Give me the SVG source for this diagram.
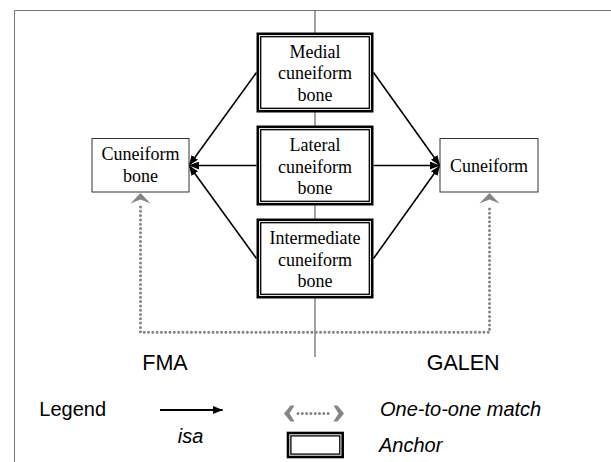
<svg xmlns="http://www.w3.org/2000/svg" width="611" height="462" viewBox="0 0 611 462">
<style>
.serif{font-family:"Liberation Serif","Times New Roman",serif;font-size:18px;fill:#000;text-anchor:middle}
.sans{font-family:"Liberation Sans",Arial,sans-serif;fill:#000}
.it{font-style:italic;font-size:20px}
.outer{fill:#fff;stroke:#000;stroke-width:2.6}
.inner{fill:none;stroke:#000;stroke-width:1.3}
.plain{fill:#fff;stroke:#333;stroke-width:1}
.isa{stroke:#000;stroke-width:1.6;fill:none}
.match{stroke:#858585;stroke-width:3;stroke-linecap:round;stroke-dasharray:0 4.3;fill:none}
.mhead{fill:#858585}
</style>
<defs>
<marker id="ah" viewBox="0 0 10 8" refX="10" refY="4" markerWidth="10" markerHeight="8" markerUnits="userSpaceOnUse" orient="auto">
<path d="M0,0 L10,4 L0,8 Z" fill="#000"/>
</marker>
</defs>
<rect width="611" height="462" fill="#fff"/>
<g id="frame">
<path d="M14.5,462 V10.5 H611" fill="none" stroke="#777" stroke-width="1"/>
<line x1="315" y1="10.5" x2="315" y2="357" stroke="#444" stroke-width="1"/>
</g>
<g id="connectors">
<line class="isa" x1="256.5" y1="72.5" x2="189" y2="165.5" marker-end="url(#ah)"/>
<line class="isa" x1="256.5" y1="165.5" x2="189" y2="165.5" marker-end="url(#ah)"/>
<line class="isa" x1="256.5" y1="258.5" x2="189" y2="165.5" marker-end="url(#ah)"/>
<line class="isa" x1="373.5" y1="72.5" x2="440" y2="165.5" marker-end="url(#ah)"/>
<line class="isa" x1="373.5" y1="165.5" x2="440" y2="165.5" marker-end="url(#ah)"/>
<line class="isa" x1="373.5" y1="258.5" x2="440" y2="165.5" marker-end="url(#ah)"/>
<path class="match" d="M140.5,207 V332.3 H489.5 V207"/>
<polygon class="mhead" points="140.5,193 150.5,203.5 140.5,199.5 130.5,203.5"/>
<polygon class="mhead" points="489.5,193 499.5,203.5 489.5,199.5 479.5,203.5"/>
</g>
<g id="medial">
<rect class="outer" x="257.8" y="33.8" width="114.4" height="77.4"/>
<rect class="inner" x="260.7" y="36.7" width="108.6" height="71.6"/>
<text class="serif" x="315" y="57.5">Medial</text>
<text class="serif" x="315" y="79">cuneiform</text>
<text class="serif" x="315" y="100.5">bone</text>
</g>
<g id="lateral">
<rect class="outer" x="257.8" y="126.8" width="114.4" height="77.4"/>
<rect class="inner" x="260.7" y="129.7" width="108.6" height="71.6"/>
<text class="serif" x="315" y="151">Lateral</text>
<text class="serif" x="315" y="172.5">cuneiform</text>
<text class="serif" x="315" y="194">bone</text>
</g>
<g id="intermediate">
<rect class="outer" x="257.8" y="219.8" width="114.4" height="77.4"/>
<rect class="inner" x="260.7" y="222.7" width="108.6" height="71.6"/>
<text class="serif" x="315" y="244">Intermediate</text>
<text class="serif" x="315" y="265.5">cuneiform</text>
<text class="serif" x="315" y="287">bone</text>
</g>
<g id="fma-cuneiform">
<rect class="plain" x="92" y="138.5" width="97" height="53.5"/>
<text class="serif" x="140.5" y="160">Cuneiform</text>
<text class="serif" x="140.5" y="181.7">bone</text>
</g>
<g id="galen-cuneiform">
<rect class="plain" x="440" y="138.5" width="98" height="53.5" stroke="#000"/>
<text class="serif" x="489" y="171.5">Cuneiform</text>
</g>
<g id="labels">
<text class="sans" x="142.3" y="370" font-size="21.5">FMA</text>
<text class="sans" x="426.7" y="370" font-size="21.5">GALEN</text>
</g>
<g id="legend">
<text class="sans" x="39.3" y="416" font-size="20">Legend</text>
<line x1="160" y1="410" x2="222.7" y2="410" stroke="#000" stroke-width="1.8" marker-end="url(#ah)"/>
<text class="sans it" x="177.7" y="443.3">isa</text>
<polygon class="mhead" points="284,413.5 290.5,405.5 294.5,405.5 289.5,413.5 294.5,421.5 290.5,421.5"/>
<line class="match" x1="298" y1="413.5" x2="331" y2="413.5" stroke-dasharray="0 6.6"/>
<polygon class="mhead" points="344,413.5 337.5,405.5 333.5,405.5 338.5,413.5 333.5,421.5 337.5,421.5"/>
<text class="sans it" x="380" y="416">One-to-one match</text>
<rect class="outer" x="288" y="433" width="54.7" height="24"/>
<rect class="inner" x="290.9" y="435.9" width="48.9" height="18.2"/>
<text class="sans it" x="379" y="451.7">Anchor</text>
</g>
</svg>
